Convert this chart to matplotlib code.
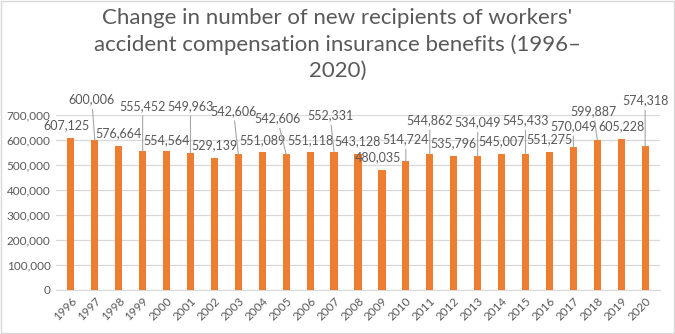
import numpy as np
import matplotlib.pyplot as plt
from matplotlib.patches import Rectangle

years = [str(y) for y in range(1996, 2021)]
recipients = [607125, 600006, 576664, 555452, 554564, 549963, 529139, 542606,
              551089, 542606, 551118, 552331, 543128, 480035, 514724, 544862,
              535796, 534049, 545007, 545433, 551275, 570049, 599887, 605228,
              574318]

# where Excel put each data label (centre height, thousands) and its x shift (px)
label_k = [660, 763, 629, 737, 600, 737, 580, 717, 600, 687, 600, 700, 596,
           533, 603, 680, 587, 671, 596, 680, 604, 657, 717, 657, 760]
label_dx = [-4, -3, 0, 0, 0, 0, 0, -5, 0, -9, 0, -4, 0, -4, 0, 0, 0, 0, 0, 0,
            0, 0, -4, 0, 0]
leader = [False, True, False, True, False, True, False, True, False, True,
          False, True, False, False, True, True, False, True, False, True,
          False, True, True, False, True]

plt.rcParams['font.family'] = ['Lato', 'DejaVu Sans']
txt = '#595959'

fig = plt.figure(figsize=(6.75, 3.34), dpi=100)
fig.patches.append(Rectangle((0.0015, 0.003), 0.997, 0.994, transform=fig.transFigure,
                             fill=False, edgecolor='#D9D9D9', lw=1))
ax = fig.add_axes([56/675, 44/334, 604/675, 175/334])

x = np.arange(len(years))
ax.bar(x, recipients, width=0.3, color='#ED7D31', zorder=3)
ax.set_xlim(-0.62, len(years) - 0.38)
ax.set_ylim(0, 700000)
ax.set_yticks(np.arange(0, 700001, 100000))
ax.set_yticklabels([f'{v:,}' for v in range(0, 700001, 100000)])
ax.set_xticks(x)
ax.set_xticklabels(years, rotation=45, ha='right', rotation_mode='anchor')
ax.tick_params(length=0, labelsize=8.5, colors=txt)
ax.tick_params(axis='y', pad=4)
ax.tick_params(axis='x', pad=4)
ax.grid(axis='y', color='#D9D9D9', lw=0.9, zorder=0)
for s in ['top', 'right', 'left']:
    ax.spines[s].set_visible(False)
ax.spines['bottom'].set_color('#D9D9D9')

# data labels, some with leader lines back to the bar
for i, v in enumerate(recipients):
    kw = {}
    if leader[i]:
        kw['arrowprops'] = dict(arrowstyle='-', color='#A6A6A6', lw=0.8,
                                shrinkA=1, shrinkB=0)
    ax.annotate(f'{v:,}', xy=(i, v),
                xytext=(i + label_dx[i] / 24.04, label_k[i] * 1000),
                fontsize=9, color=txt, ha='center', va='center',
                annotation_clip=False, **kw)

fig.text(0.5, 0.975, "Change in number of new recipients of workers'\n"
         "accident compensation insurance benefits (1996–\n2020)",
         ha='center', va='top', fontsize=16, color=txt, linespacing=1.38)

fig.savefig('out.png', dpi=100)
